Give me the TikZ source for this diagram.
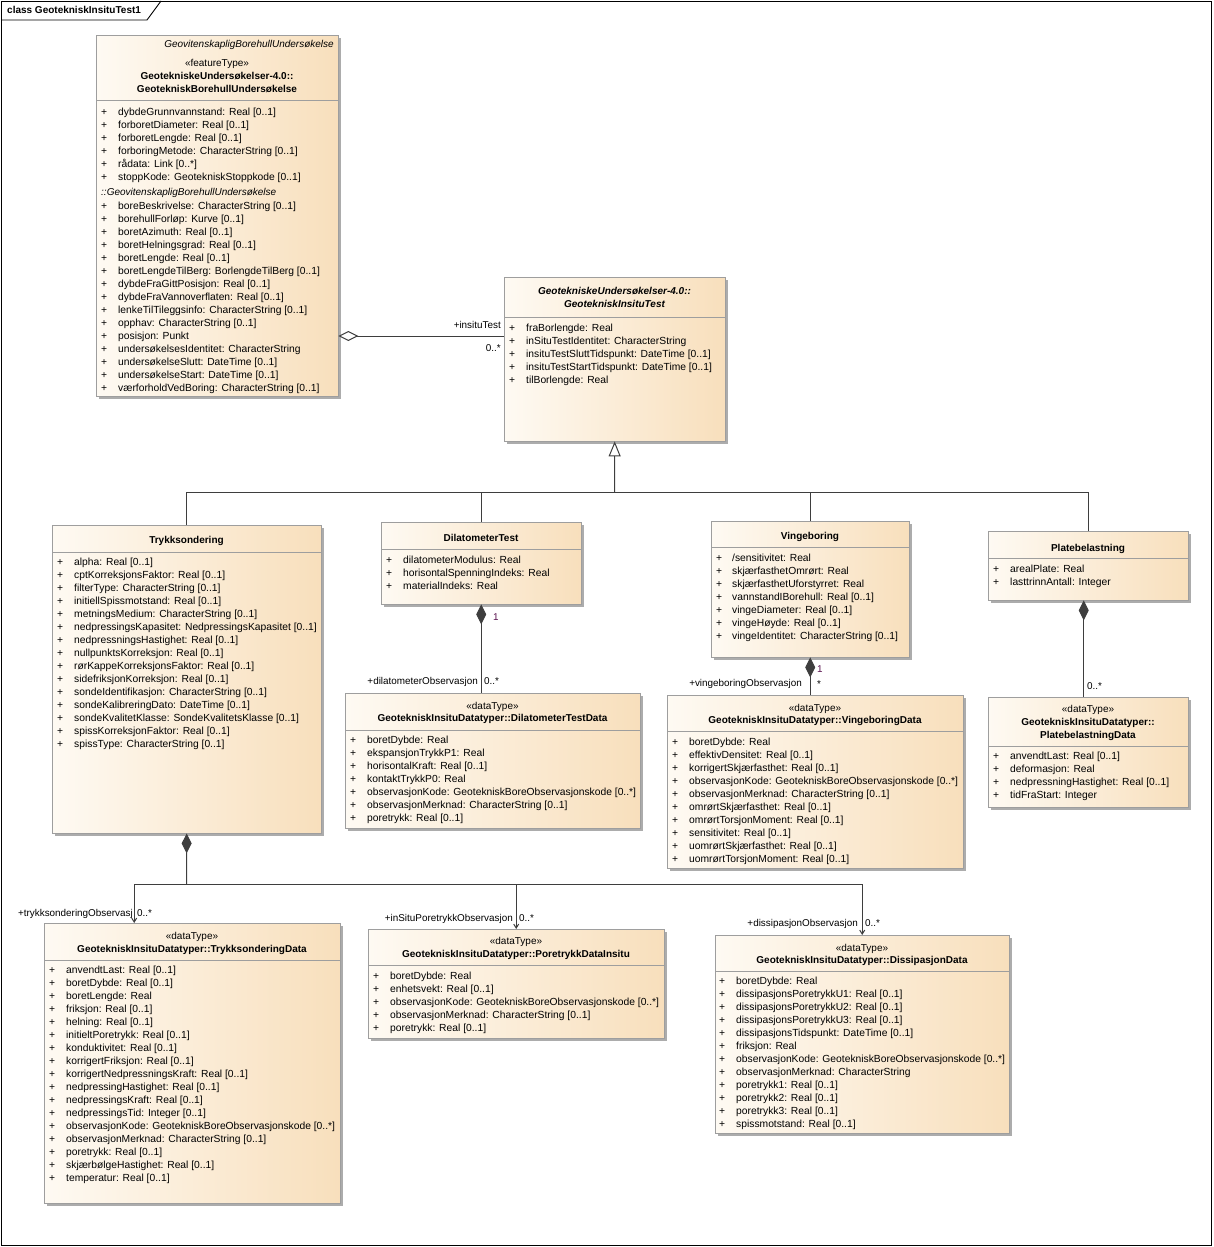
\documentclass[tikz,border=0pt]{standalone}
\usepackage{fontspec}
\setmainfont{Liberation Sans}
\usetikzlibrary{arrows.meta,shadows}

\definecolor{boxL}{RGB}{254,250,243}
\definecolor{boxR}{RGB}{248,223,188}
\definecolor{boxline}{RGB}{158,158,158}
\definecolor{shadowc}{RGB}{172,172,172}
\definecolor{connc}{RGB}{62,62,62}
\definecolor{multc}{RGB}{90,20,80}

\tikzset{
  cls/.style={draw=boxline, left color=boxL, right color=boxR, anchor=north west,
    inner sep=0pt, drop shadow={shadow xshift=3pt, shadow yshift=-3pt, fill=shadowc, opacity=1}},
  sep/.style={draw=boxline, line width=0.8pt},
  attr/.style={anchor=base west, inner sep=0pt, font=\fontsize{10.3}{12}\selectfont},
  ttl/.style={anchor=base, inner sep=0pt, font=\fontsize{10}{12}\selectfont\bfseries},
  ster/.style={anchor=base, inner sep=0pt, font=\fontsize{10}{12}\selectfont},
  role/.style={inner sep=0pt, font=\fontsize{9.9}{12}\selectfont},
  conn/.style={draw=connc, line width=1pt},
  compo/.style={{Diamond[length=20pt, width=10pt]}-},
  aggr/.style={{Diamond[open, length=20pt, width=10pt, fill=white]}-},
  inherit/.style={-{Triangle[open, length=15pt, width=12pt, fill=white]}},
  navi/.style={-{Straight Barb[length=4pt, width=5pt]}},
  frame/.style={draw=black, line width=0.9pt},
}

\begin{document}
\begin{tikzpicture}[x=1pt, y=-1pt]
\useasboundingbox (0,0) rectangle (1213,1247);

% diagram frame
\draw[frame] (1,1) rectangle (1211,1245);
\draw[frame] (1,20) -- (147,20) -- (161,1);
\node[attr, font=\fontsize{10}{12}\selectfont\bfseries] (frame-name) at (7,14) {class GeotekniskInsituTest1};

% class boxes
\node[cls, minimum width=242pt, minimum height=361pt] (borehull) at (96,35) {};
\node[cls, minimum width=221pt, minimum height=164pt] (insitu) at (504,277) {};
\node[cls, minimum width=269pt, minimum height=308pt] (ts) at (52,525) {};
\node[cls, minimum width=200pt, minimum height=82pt] (dil) at (381,522) {};
\node[cls, minimum width=198pt, minimum height=136pt] (vinge) at (711,521) {};
\node[cls, minimum width=200pt, minimum height=69pt] (plate) at (988,531) {};
\node[cls, minimum width=295pt, minimum height=135pt] (dtd) at (345,693) {};
\node[cls, minimum width=296pt, minimum height=173pt] (vd) at (667,695) {};
\node[cls, minimum width=200pt, minimum height=110pt] (pd) at (988,697) {};
\node[cls, minimum width=296pt, minimum height=280pt] (tsd) at (44,923) {};
\node[cls, minimum width=296pt, minimum height=109pt] (prd) at (368,929) {};
\node[cls, minimum width=294pt, minimum height=198pt] (dis) at (715,935) {};

% compartment lines
\draw[sep] (96,100) -- (338,100);
\draw[sep] (504,317) -- (725,317);
\draw[sep] (52,552) -- (321,552);
\draw[sep] (381,549) -- (581,549);
\draw[sep] (711,547) -- (909,547);
\draw[sep] (988,558) -- (1188,558);
\draw[sep] (345,730) -- (640,730);
\draw[sep] (667,731) -- (963,731);
\draw[sep] (988,746) -- (1188,746);
\draw[sep] (44,960) -- (340,960);
\draw[sep] (368,965) -- (664,965);
\draw[sep] (715,971) -- (1009,971);

% GeotekniskBorehullUndersøkelse
\node[ster, anchor=base east, font=\fontsize{10}{12}\selectfont\itshape] (bh-parent) at (334,47.5) {GeovitenskapligBorehullUndersøkelse};
\node[ster] (bh-st) at (217,66.5) {«featureType»};
\node[ttl] (bh-pk) at (217,79.5) {GeotekniskeUndersøkelser-4.0::};
\node[ttl] (bh-name) at (217,92.5) {GeotekniskBorehullUndersøkelse};
\foreach \lbl [count=\i from 0] in {dybdeGrunnvannstand: Real [0..1], forboretDiameter: Real [0..1],
  forboretLengde: Real [0..1], forboringMetode: CharacterString [0..1], rådata: Link [0..*],
  stoppKode: GeotekniskStoppkode [0..1]} {
  \node[attr] (bh-p\i) at (101,115+13*\i) {+};
  \node[attr] (bh-a\i) at (118,115+13*\i) {\lbl};
}
\node[attr, font=\fontsize{10}{12}\selectfont\itshape] (bh-inh) at (101,195.5) {::GeovitenskapligBorehullUndersøkelse};
\foreach \lbl [count=\i from 0] in {boreBeskrivelse: CharacterString [0..1], borehullForløp: Kurve [0..1],
  boretAzimuth: Real [0..1], boretHelningsgrad: Real [0..1], boretLengde: Real [0..1],
  boretLengdeTilBerg: BorlengdeTilBerg [0..1], dybdeFraGittPosisjon: Real [0..1],
  dybdeFraVannoverflaten: Real [0..1], lenkeTilTileggsinfo: CharacterString [0..1],
  opphav: CharacterString [0..1], posisjon: Punkt, undersøkelsesIdentitet: CharacterString,
  undersøkelseSlutt: DateTime [0..1], undersøkelseStart: DateTime [0..1],
  værforholdVedBoring: CharacterString [0..1]} {
  \node[attr] (bh-q\i) at (101,209+13*\i) {+};
  \node[attr] (bh-b\i) at (118,209+13*\i) {\lbl};
}

% GeotekniskInsituTest
\node[ttl, font=\fontsize{10}{12}\selectfont\bfseries\itshape] (in-pk) at (614.5,294.5) {GeotekniskeUndersøkelser-4.0::};
\node[ttl, font=\fontsize{10}{12}\selectfont\bfseries\itshape] (in-name) at (614.5,307.5) {GeotekniskInsituTest};
\foreach \lbl [count=\i from 0] in {fraBorlengde: Real, inSituTestIdentitet: CharacterString,
  insituTestSluttTidspunkt: DateTime [0..1], insituTestStartTidspunkt: DateTime [0..1],
  tilBorlengde: Real} {
  \node[attr] (in-p\i) at (509,331+13*\i) {+};
  \node[attr] (in-a\i) at (526,331+13*\i) {\lbl};
}

% Trykksondering
\node[ttl] (ts-name) at (186.5,543.5) {Trykksondering};
\foreach \lbl [count=\i from 0] in {alpha: Real [0..1], cptKorreksjonsFaktor: Real [0..1],
  filterType: CharacterString [0..1], initiellSpissmotstand: Real [0..1],
  metningsMedium: CharacterString [0..1], nedpressingsKapasitet: NedpressingsKapasitet [0..1],
  nedpressningsHastighet: Real [0..1], nullpunktsKorreksjon: Real [0..1],
  rørKappeKorreksjonsFaktor: Real [0..1], sidefriksjonKorreksjon: Real [0..1],
  sondeIdentifikasjon: CharacterString [0..1], sondeKalibreringDato: DateTime [0..1],
  sondeKvalitetKlasse: SondeKvalitetsKlasse [0..1], spissKorreksjonFaktor: Real [0..1],
  spissType: CharacterString [0..1]} {
  \node[attr] (ts-p\i) at (57,565+13*\i) {+};
  \node[attr] (ts-a\i) at (74,565+13*\i) {\lbl};
}

% DilatometerTest
\node[ttl] (dil-name) at (481,541) {DilatometerTest};
\foreach \lbl [count=\i from 0] in {dilatometerModulus: Real, horisontalSpenningIndeks: Real,
  materialIndeks: Real} {
  \node[attr] (dil-p\i) at (386,563+13*\i) {+};
  \node[attr] (dil-a\i) at (403,563+13*\i) {\lbl};
}

% Vingeboring
\node[ttl] (vi-name) at (810,539) {Vingeboring};
\foreach \lbl [count=\i from 0] in {/sensitivitet: Real, skjærfasthetOmrørt: Real,
  skjærfasthetUforstyrret: Real, vannstandIBorehull: Real [0..1], vingeDiameter: Real [0..1],
  vingeHøyde: Real [0..1], vingeIdentitet: CharacterString [0..1]} {
  \node[attr] (vi-p\i) at (716,561+13*\i) {+};
  \node[attr] (vi-a\i) at (732,561+13*\i) {\lbl};
}

% Platebelastning
\node[ttl] (pl-name) at (1088,551) {Platebelastning};
\foreach \lbl [count=\i from 0] in {arealPlate: Real, lasttrinnAntall: Integer} {
  \node[attr] (pl-p\i) at (993,572+13*\i) {+};
  \node[attr] (pl-a\i) at (1010,572+13*\i) {\lbl};
}

% DilatometerTestData
\node[ster] (dtd-st) at (492.5,709) {«dataType»};
\node[ttl] (dtd-name) at (492.5,721) {GeotekniskInsituDatatyper::DilatometerTestData};
\foreach \lbl [count=\i from 0] in {boretDybde: Real, ekspansjonTrykkP1: Real,
  horisontalKraft: Real [0..1], kontaktTrykkP0: Real,
  observasjonKode: GeotekniskBoreObservasjonskode [0..*],
  observasjonMerknad: CharacterString [0..1], poretrykk: Real [0..1]} {
  \node[attr] (dtd-p\i) at (350,743.5+13*\i) {+};
  \node[attr] (dtd-a\i) at (367,743.5+13*\i) {\lbl};
}

% VingeboringData
\node[ster] (vd-st) at (815,711) {«dataType»};
\node[ttl] (vd-name) at (815,723) {GeotekniskInsituDatatyper::VingeboringData};
\foreach \lbl [count=\i from 0] in {boretDybde: Real, effektivDensitet: Real [0..1],
  korrigertSkjærfasthet: Real [0..1], observasjonKode: GeotekniskBoreObservasjonskode [0..*],
  observasjonMerknad: CharacterString [0..1], omrørtSkjærfasthet: Real [0..1],
  omrørtTorsjonMoment: Real [0..1], sensitivitet: Real [0..1],
  uomrørtSkjærfasthet: Real [0..1], uomrørtTorsjonMoment: Real [0..1]} {
  \node[attr] (vd-p\i) at (672,745+13*\i) {+};
  \node[attr] (vd-a\i) at (689,745+13*\i) {\lbl};
}

% PlatebelastningData
\node[ster] (pd-st) at (1088,712) {«dataType»};
\node[ttl] (pd-pk) at (1088,725) {GeotekniskInsituDatatyper::};
\node[ttl] (pd-name) at (1088,738.5) {PlatebelastningData};
\foreach \lbl [count=\i from 0] in {anvendtLast: Real [0..1], deformasjon: Real,
  nedpressningHastighet: Real [0..1], tidFraStart: Integer} {
  \node[attr] (pd-p\i) at (993,759.5+13*\i) {+};
  \node[attr] (pd-a\i) at (1010,759.5+13*\i) {\lbl};
}

% TrykksonderingData
\node[ster] (tsd-st) at (192,939) {«dataType»};
\node[ttl] (tsd-name) at (192,952.5) {GeotekniskInsituDatatyper::TrykksonderingData};
\foreach \lbl [count=\i from 0] in {anvendtLast: Real [0..1], boretDybde: Real [0..1],
  boretLengde: Real, friksjon: Real [0..1], helning: Real [0..1], initieltPoretrykk: Real [0..1],
  konduktivitet: Real [0..1], korrigertFriksjon: Real [0..1],
  korrigertNedpressningsKraft: Real [0..1], nedpressingHastighet: Real [0..1],
  nedpressingsKraft: Real [0..1], nedpressingsTid: Integer [0..1],
  observasjonKode: GeotekniskBoreObservasjonskode [0..*],
  observasjonMerknad: CharacterString [0..1], poretrykk: Real [0..1],
  skjærbølgeHastighet: Real [0..1], temperatur: Real [0..1]} {
  \node[attr] (tsd-p\i) at (49,973.5+13*\i) {+};
  \node[attr] (tsd-a\i) at (66,973.5+13*\i) {\lbl};
}

% PoretrykkDataInsitu
\node[ster] (prd-st) at (516,944.5) {«dataType»};
\node[ttl] (prd-name) at (516,957) {GeotekniskInsituDatatyper::PoretrykkDataInsitu};
\foreach \lbl [count=\i from 0] in {boretDybde: Real, enhetsvekt: Real [0..1],
  observasjonKode: GeotekniskBoreObservasjonskode [0..*],
  observasjonMerknad: CharacterString [0..1], poretrykk: Real [0..1]} {
  \node[attr] (prd-p\i) at (373,979.5+13*\i) {+};
  \node[attr] (prd-a\i) at (390,979.5+13*\i) {\lbl};
}

% DissipasjonData
\node[ster] (dis-st) at (862,951) {«dataType»};
\node[ttl] (dis-name) at (862,963.5) {GeotekniskInsituDatatyper::DissipasjonData};
\foreach \lbl [count=\i from 0] in {boretDybde: Real, dissipasjonsPoretrykkU1: Real [0..1],
  dissipasjonsPoretrykkU2: Real [0..1], dissipasjonsPoretrykkU3: Real [0..1],
  dissipasjonsTidspunkt: DateTime [0..1], friksjon: Real,
  observasjonKode: GeotekniskBoreObservasjonskode [0..*],
  observasjonMerknad: CharacterString, poretrykk1: Real [0..1], poretrykk2: Real [0..1],
  poretrykk3: Real [0..1], spissmotstand: Real [0..1]} {
  \node[attr] (dis-p\i) at (719,984.5+13*\i) {+};
  \node[attr] (dis-a\i) at (736,984.5+13*\i) {\lbl};
}

% aggregation
\coordinate (agg) at (420,336);
\draw[conn, aggr] (borehull.east |- agg) -- (insitu.west |- agg);
\node[role, anchor=base east] (agg-role) at (501,328.5) {+insituTest};
\node[role, anchor=base east] (agg-mult) at (501,351) {0..*};

% generalization
\coordinate (gj) at (614.5,492);
\draw[conn] (ts.north) |- (gj);
\draw[conn] (dil.north) |- (gj);
\draw[conn] (vinge.north) |- (gj);
\draw[conn] (plate.north) |- (gj);
\draw[conn, inherit] (gj) -- (insitu.south);

% compositions
\draw[conn, compo] (dil.south) -- (dil.south |- dtd.north);
\node[role, anchor=base west, text=multc] (dil-one) at (493,620) {1};
\node[role, anchor=base east] (dil-role) at (478,684) {+dilatometerObservasjon};
\node[role, anchor=base west] (dil-mult) at (484,684) {0..*};

\draw[conn, compo] (vinge.south) -- (vinge.south |- vd.north);
\node[role, anchor=base west, text=multc] (vi-one) at (817,672.5) {1};
\node[role, anchor=base west] (vi-mult) at (817,687) {*};
\node[role, anchor=base east] (vi-role) at (802,686) {+vingeboringObservasjon};

\coordinate (pl-d) at ([xshift=-4.5pt]plate.south);
\draw[conn, compo] (pl-d) -- (pl-d |- pd.north);
\node[role, anchor=base west] (pl-mult) at (1087,689.5) {0..*};

\coordinate (tj) at (186.5,884);
\draw[conn, compo] (ts.south) -- (tj);
\coordinate (tsd-in) at ([xshift=-58pt]tsd.north);
\draw[conn, navi] (tj) -| (tsd-in);
\draw[conn, navi] (tj) -| (prd.north);
\draw[conn, navi] (tj) -| (dis.north);
\node[role, anchor=base east] (tsd-role) at (133,916) {+trykksonderingObservasj};
\node[role, anchor=base west] (tsd-mult) at (137,916) {0..*};
\node[role, anchor=base east] (prd-role) at (513,921) {+inSituPoretrykkObservasjon};
\node[role, anchor=base west] (prd-mult) at (519,921) {0..*};
\node[role, anchor=base east] (dis-role) at (858,926) {+dissipasjonObservasjon};
\node[role, anchor=base west] (dis-mult) at (865,926) {0..*};
\end{tikzpicture}
\end{document}
